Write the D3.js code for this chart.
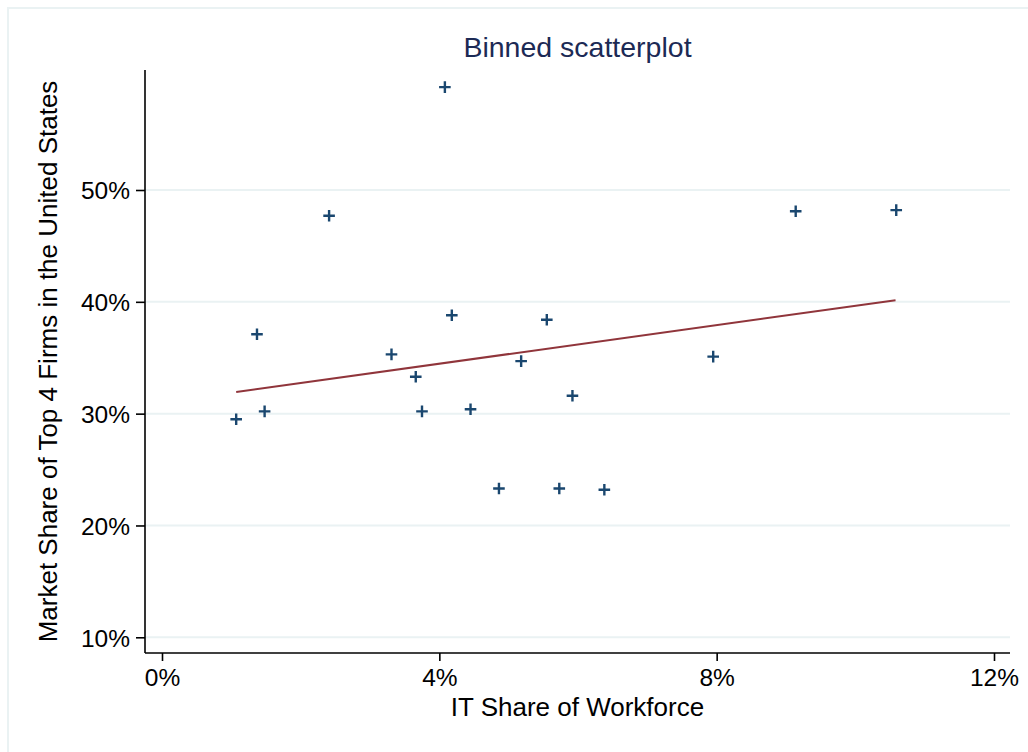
<!DOCTYPE html>
<html>
<head>
  <style type="text/css">
    body { margin: 0; background: #fff; }
    text { font-family: Arial, "Liberation Sans", sans-serif; }
  </style>
</head>
<body>
<svg></svg>
<script src="https://cdnjs.cloudflare.com/ajax/libs/d3/7.8.5/d3.min.js"></script>
<script>
    var width = 1028;
    var height = 752;

    // binned means, in percent
    var itShare = [1.07, 1.37, 1.48, 2.41, 3.31, 3.66, 3.75, 4.08, 4.18, 4.45,
                   4.86, 5.18, 5.55, 5.73, 5.92, 6.38, 7.95, 9.14, 10.59];
    var top4Share = [29.5, 37.1, 30.2, 47.7, 35.3, 33.3, 30.2, 59.2, 38.8, 30.4,
                     23.3, 34.7, 38.4, 23.3, 31.6, 23.2, 35.1, 48.1, 48.2];
    // linear fit end points
    var fitX = [1.07, 10.58];
    var fitY = [31.94, 40.14];

    var xTicks = [0, 4, 8, 12];
    var yTicks = [10, 20, 30, 40, 50];

    var markColor = '#1a476f';
    var fitColor = '#90353b';
    var gridColor = '#eaf2f3';

    var plot = {left: 145, right: 1010, top: 70, bottom: 653};

    var svg = d3.select('svg')
      .attr('width', width)
      .attr('height', height);

    // outer graph region outline
    svg.append('rect')
      .attr('x', 8).attr('y', 8)
      .attr('width', width + 20).attr('height', height + 20)
      .attr('fill', '#fff')
      .attr('stroke', gridColor)
      .attr('stroke-width', 2);

    var x = d3.scaleLinear().domain([0, 12]).range([162, 994]);
    var y = d3.scaleLinear().domain([10, 50]).range([637.3, 190]);

    // grid lines
    svg.append('g')
      .selectAll('line')
      .data(yTicks)
      .enter()
      .append('line')
      .attr('x1', plot.left).attr('x2', plot.right)
      .attr('y1', function(d) { return y(d); })
      .attr('y2', function(d) { return y(d); })
      .attr('stroke', gridColor)
      .attr('stroke-width', 2);

    // axes
    var xAxis = svg.append('g')
      .attr('transform', 'translate(0,' + plot.bottom + ')')
      .call(d3.axisBottom(x).tickValues(xTicks).tickSize(8).tickPadding(8)
        .tickFormat(function(d) { return d + '%'; }));
    xAxis.select('.domain').remove();

    var yAxis = svg.append('g')
      .attr('transform', 'translate(' + plot.left + ',0)')
      .call(d3.axisLeft(y).tickValues(yTicks).tickSize(9).tickPadding(6)
        .tickFormat(function(d) { return d + '%'; }));
    yAxis.select('.domain').remove();

    [xAxis, yAxis].forEach(function(g) {
      g.selectAll('line').attr('stroke', '#000').attr('stroke-width', 1.6);
      g.selectAll('text')
        .attr('fill', '#000')
        .style('font-size', '24.5px')
        .style('font-family', 'Arial, "Liberation Sans", sans-serif');
    });
    yAxis.selectAll('text').attr('dy', '0.36em');

    svg.append('line')
      .attr('x1', plot.left).attr('x2', plot.right)
      .attr('y1', plot.bottom).attr('y2', plot.bottom)
      .attr('stroke', '#000').attr('stroke-width', 1.6);
    svg.append('line')
      .attr('x1', plot.left).attr('x2', plot.left)
      .attr('y1', plot.top).attr('y2', plot.bottom)
      .attr('stroke', '#000').attr('stroke-width', 1.6);

    // fit line
    svg.append('line')
      .attr('x1', x(fitX[0])).attr('y1', y(fitY[0]))
      .attr('x2', x(fitX[1])).attr('y2', y(fitY[1]))
      .attr('stroke', fitColor)
      .attr('stroke-width', 2);

    // plus markers
    var points = itShare.map(function(v, i) { return {x: v, y: top4Share[i]}; });
    svg.append('g')
      .selectAll('path')
      .data(points)
      .enter()
      .append('path')
      .attr('d', function(d) {
        var cx = x(d.x), cy = y(d.y), r = 5.8;
        return 'M' + (cx - r) + ',' + cy + 'H' + (cx + r) +
               'M' + cx + ',' + (cy - r) + 'V' + (cy + r);
      })
      .attr('stroke', markColor)
      .attr('stroke-width', 2.4)
      .attr('fill', 'none');

    // titles
    svg.append('text')
      .attr('x', (plot.left + plot.right) / 2)
      .attr('y', 57)
      .attr('text-anchor', 'middle')
      .attr('fill', '#1c2a55')
      .style('font-size', '28.5px')
      .text('Binned scatterplot');

    svg.append('text')
      .attr('x', (plot.left + plot.right) / 2)
      .attr('y', 716)
      .attr('text-anchor', 'middle')
      .attr('fill', '#000')
      .style('font-size', '26px')
      .text('IT Share of Workforce');

    svg.append('text')
      .attr('transform', 'translate(57,' + (plot.top + plot.bottom) / 2 + ') rotate(-90)')
      .attr('text-anchor', 'middle')
      .attr('fill', '#000')
      .style('font-size', '26px')
      .text('Market Share of Top 4 Firms in the United States');
</script>
</body>
</html>
